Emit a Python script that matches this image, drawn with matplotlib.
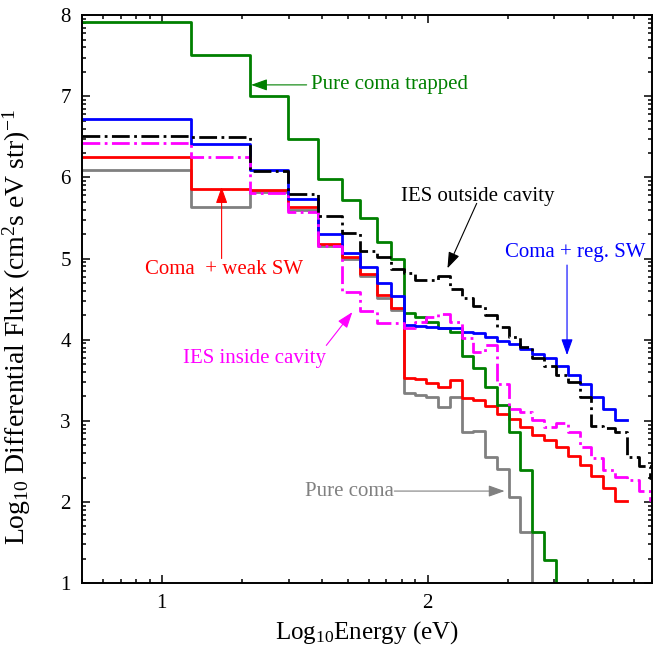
import numpy as np
import matplotlib
matplotlib.use("Agg")
import matplotlib.pyplot as plt
from matplotlib.ticker import FixedLocator, FuncFormatter, LogLocator, NullFormatter

plt.rcParams['font.family'] = ['Liberation Serif', 'DejaVu Serif']
plt.rcParams['mathtext.fontset'] = 'custom'
plt.rcParams['mathtext.rm'] = 'Liberation Serif'
plt.rcParams['mathtext.it'] = 'Liberation Serif:italic'

# energy bin edges, log10(E/eV)
edges = [0.699, 1.111, 1.332, 1.475, 1.589, 1.677, 1.747, 1.809, 1.864, 1.911,
         1.953, 1.995, 2.040, 2.084, 2.128, 2.172, 2.217, 2.260, 2.305, 2.349,
         2.392, 2.438, 2.483, 2.528, 2.572, 2.615, 2.660, 2.706, 2.750, 2.794,
         2.838, 2.850]

# log10 flux per bin
trapped = [7.92, 7.51, 7.00, 6.47, 5.98, 5.72, 5.50, 5.20, 5.00, 4.33,
           4.28, 4.22, 4.15, 4.10, 3.80, 3.65, 3.42, 3.19, 2.86, 2.39,
           1.63, 1.28, 0.0]
pure = [6.09, 5.64, 5.82, 5.60, 5.15, 5.00, 4.79, 4.52, 4.37, 3.34,
        3.32, 3.30, 3.17, 3.29, 2.86, 2.88, 2.55, 2.41, 2.06, 1.63, 0.0]
weak = [6.25, 5.86, 5.85, 5.63, 5.18, 5.02, 4.81, 4.55, 4.39, 3.53,
        3.51, 3.47, 3.42, 3.50, 3.28, 3.26, 3.18, 3.08, 3.02, 2.92,
        2.83, 2.76, 2.68, 2.57, 2.46, 2.32, 2.17, 2.01]
regular = [6.72, 6.41, 6.09, 5.73, 5.30, 5.07, 4.89, 4.70, 4.54, 4.18,
           4.17, 4.16, 4.15, 4.14, 4.10, 4.08, 4.03, 3.99, 3.95, 3.89,
           3.83, 3.77, 3.68, 3.56, 3.46, 3.29, 3.15, 3.01]
outside = [6.51, 6.50, 6.08, 5.79, 5.52, 5.31, 5.09, 5.02, 4.87, 4.82,
           4.74, 4.73, 4.78, 4.63, 4.51, 4.42, 4.30, 4.16, 4.03, 3.91,
           3.77, 3.68, 3.56, 3.48, 3.29, 2.94, 2.91, 2.86, 2.55, 2.45, 2.30]
inside = [6.42, 6.25, 5.81, 5.57, 5.15, 4.59, 4.35, 4.21, 4.20, 4.14,
          4.22, 4.28, 4.32, 4.22, 4.02, 3.85, 3.93, 3.46, 3.15, 3.11,
          3.01, 2.92, 2.97, 2.86, 2.68, 2.54, 2.39, 2.31, 2.27, 2.14, 2.02]

# labels: text, text position, arrow start, arrow tip (log10 units), colour
labels = [
    ('Pure coma trapped', (1.56, 7.14), (1.545, 7.14), (1.336, 7.14), '#008000'),
    ('IES outside cavity', (2.19, 5.77), (2.185, 5.68), (2.075, 4.88), 'black'),
    ('Coma + reg. SW', (2.555, 5.08), (2.525, 4.92), (2.525, 3.81), '#0000ff'),
    ('Coma  + weak SW', (1.234, 4.86), (1.225, 5.00), (1.225, 5.88), '#ff0000'),
    ('IES inside cavity', (1.347, 3.77), (1.619, 3.93), (1.717, 4.34), '#ff00ff'),
    ('Pure coma', (1.706, 2.135), (1.875, 2.135), (2.29, 2.135), '#808080'),
]


def step(ax, vals, **kw):
    n = len(vals)
    x = 10 ** np.array(edges[:n + 1])
    y = 10 ** np.append(vals, vals[-1])
    ax.plot(x, y, drawstyle='steps-post', **kw)


fig = plt.figure(figsize=(6.6, 6.56), dpi=100)
ax = fig.add_axes([0.124, 0.111, 0.864, 0.866])

step(ax, pure, color='#808080', lw=2)
step(ax, weak, color='#ff0000', lw=2)
step(ax, trapped, color='#008000', lw=2)
step(ax, regular, color='#0000ff', lw=2)
step(ax, inside, color='#ff00ff', lw=2, ls='-.')
step(ax, outside, color='black', lw=2, ls='-.')

ax.set_xscale('log')
ax.set_yscale('log')
ax.set_xlim(5, 700)
ax.set_ylim(1e1, 1e8)

ax.xaxis.set_major_locator(FixedLocator([10, 100]))
ax.yaxis.set_major_locator(LogLocator(base=10, numticks=10))
fmt = FuncFormatter(lambda v, p: f"{np.log10(v):.0f}")
ax.xaxis.set_major_formatter(fmt)
ax.yaxis.set_major_formatter(fmt)
ax.xaxis.set_minor_locator(LogLocator(base=10, subs=np.arange(2, 10), numticks=20))
ax.yaxis.set_minor_locator(LogLocator(base=10, subs=np.arange(2, 10), numticks=20))
ax.xaxis.set_minor_formatter(NullFormatter())
ax.yaxis.set_minor_formatter(NullFormatter())
ax.tick_params(which='both', direction='in', top=True, right=True, labelsize=15, width=1.1)
ax.tick_params(which='major', length=6, pad=8)
ax.tick_params(which='minor', length=3)
for s in ax.spines.values():
    s.set_linewidth(1.4)

ax.set_xlabel('Log$_{10}$Energy (eV)', fontsize=18, labelpad=4)
ax.set_ylabel('Log$_{10}$ Differential Flux (cm$^2$s eV str)$^{-1}$', fontsize=20)
ax.yaxis.set_label_coords(-0.085, 0.45)

for text, pos, start, tip, col in labels:
    ha = 'left' if text == 'Pure coma trapped' else 'center'
    ax.text(10 ** pos[0], 10 ** pos[1], text, color=col, fontsize=15, ha=ha, va='center')
    ax.annotate('', xy=(10 ** tip[0], 10 ** tip[1]), xytext=(10 ** start[0], 10 ** start[1]),
                arrowprops=dict(arrowstyle='-|>,head_length=0.7,head_width=0.25', color=col,
                                lw=0.8, mutation_scale=14, shrinkA=0, shrinkB=0))

fig.savefig('out.png', dpi=100)
